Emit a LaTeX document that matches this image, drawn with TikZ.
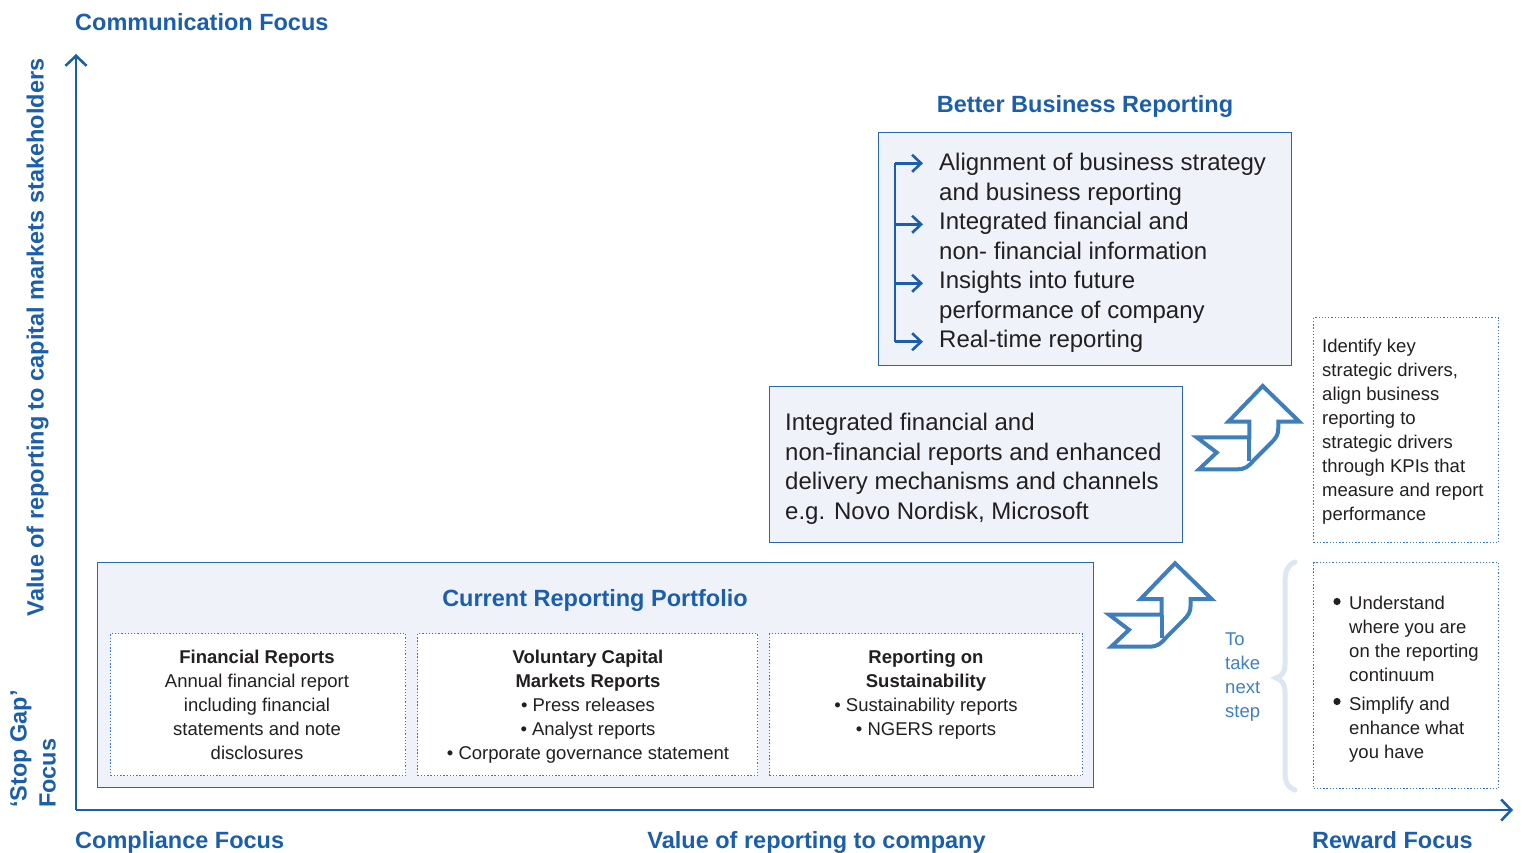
\documentclass[tikz,border=0pt]{standalone}
\usepackage{fontspec}
\setmainfont{Liberation Sans}
\usetikzlibrary{arrows.meta}
\definecolor{kblue}{HTML}{1B5EAB}
\definecolor{kline}{HTML}{2A66AE}
\definecolor{kfill}{HTML}{EFF3F9}
\definecolor{karrow}{HTML}{3F7EBD}
\definecolor{kdot}{HTML}{3A78BD}
\definecolor{kbrace}{HTML}{DDE7F2}
\definecolor{kstep}{HTML}{3E80C4}
\definecolor{ktext}{HTML}{231F20}
\tikzset{
  axisline/.style={draw=kblue, line width=2.6pt, -{Straight Barb[length=10pt,width=21pt]}},
  title/.style={font=\fontsize{23.5}{28}\selectfont\bfseries, text=kblue, inner sep=0pt},
  bigbox/.style={draw=kline, line width=1.4pt, fill=kfill, anchor=north west, inner sep=0pt},
  dotbox/.style={draw=kdot, line width=1.3pt, dash pattern=on 1.3pt off 1.9pt, fill=white, anchor=north west, inner sep=0pt},
  bodytext/.style={font=\fontsize{24}{29.5}\selectfont, text=ktext, align=left, anchor=north west, inner sep=0pt},
  smalltext/.style={font=\fontsize{18.5}{24}\selectfont, text=ktext, inner sep=0pt},
  bbarrow/.style={draw=kblue, line width=2.6pt, -{Straight Barb[length=9pt,width=17pt]}},
  fatarrow/.pic={
    \draw[karrow, line width=4pt, line join=miter, fill=white]
      (72.7,6) -- (109.3,41.7) -- (88.3,41.7) -- (88.3,48)
      .. controls (88.3,55) and (86,58) .. (81,63) -- (64,80)
      .. controls (58,87) and (55,89.3) .. (47,89.3) -- (9,89.3) -- (26.7,72.5)
      -- (6.7,57.3) -- (59.3,57.3) -- (59.3,41.7) -- (38.3,41.7) -- cycle;
    \draw[karrow, line width=4pt] (59.3,57.3) -- (59.3,81);
  }
}
\begin{document}
\begin{tikzpicture}[x=1pt,y=-1pt]
\useasboundingbox (0,0) rectangle (1523,852);
% axes
\coordinate (O) at (76,810);
\coordinate (ytop) at (76,54);
\coordinate (xend) at (1513,810);
\draw[axisline] (O) -- (ytop);
\draw[axisline] (O) -- (xend);
% axis labels
\node[title, anchor=base west] (comm) at (75,30.5) {Communication Focus};
\node[title, anchor=base west] (compl) at (75,848.5) {Compliance Focus};
\node[title, anchor=base] (valco) at (816.5,848.5) {Value of reporting to company};
\node[title, anchor=base west] (reward) at (1312,848.5) {Reward Focus};
\node[title, anchor=base, rotate=90] (valcap) at (43.5,337.5) {Value of reporting to capital markets stakeholders};
\node[title, anchor=base west, rotate=90] (stopgap) at (26.5,808) {‘Stop Gap’};
\node[title, anchor=base west, rotate=90] (focus) at (55.5,808) {Focus};
% Better business reporting
\node[title, anchor=base] (bbrtitle) at (1085,112.5) {Better Business Reporting};
\node[bigbox, minimum width=413pt, minimum height=233pt] (bbr) at (878,132) {};
\coordinate (bt) at (895,163.3);
\coordinate (bb) at (895,341.7);
\coordinate (a1) at (923,163.3);
\coordinate (a2) at (923,224.3);
\coordinate (a3) at (923,283.3);
\coordinate (a4) at (923,341.7);
\draw[draw=kblue, line width=2.6pt] (bt) -- (bb);
\draw[bbarrow] (bt) -- (a1);
\draw[bbarrow] (bt |- a2) -- (a2);
\draw[bbarrow] (bt |- a3) -- (a3);
\draw[bbarrow] (bb) -- (a4);
\node[bodytext] (bbrtext) at (939,153) {Alignment of business strategy\\and business reporting\\Integrated financial and\\non- financial information\\Insights into future\\performance of company\\Real-time reporting};
% middle box
\node[bigbox, minimum width=413pt, minimum height=156pt] (mid) at (769,386) {};
\node[bodytext] (midtext) at (785,413) {Integrated financial and\\non-financial reports and enhanced\\delivery mechanisms and channels\\e.g. Novo Nordisk, Microsoft};
% current reporting portfolio
\node[bigbox, minimum width=996pt, minimum height=225pt] (crp) at (97,562) {};
\node[title, anchor=base] (crptitle) at (595,606.5) {Current Reporting Portfolio};
\node[dotbox, minimum width=295pt, minimum height=142pt] (d1) at (110,633) {};
\node[dotbox, minimum width=340pt, minimum height=142pt] (d2) at (417,633) {};
\node[dotbox, minimum width=313pt, minimum height=142pt] (d3) at (769,633) {};
\node[smalltext, align=center, anchor=north] (t1) at (257,650) {\textbf{Financial Reports}\\Annual financial report\\including financial\\statements and note\\disclosures};
\node[smalltext, align=center, anchor=north] (t2) at (588,650) {\textbf{Voluntary Capital}\\\textbf{Markets Reports}\\• Press releases\\• Analyst reports\\• Corporate governance statement};
\node[smalltext, align=center, anchor=north] (t3) at (926,650) {\textbf{Reporting on}\\\textbf{Sustainability}\\• Sustainability reports\\• NGERS reports};
% fat arrows
\pic at (1190,380) {fatarrow};
\pic at (1102.3,557.3) {fatarrow};
% right boxes
\node[dotbox, minimum width=185pt, minimum height=225pt] (rt) at (1313,317) {};
\node[smalltext, align=left, anchor=north west] (rttext) at (1322,339) {Identify key\\strategic drivers,\\align business\\reporting to\\strategic drivers\\through KPIs that\\measure and report\\performance};
\node[dotbox, minimum width=185pt, minimum height=226pt] (rb) at (1313,562) {};
\node[smalltext, align=left, anchor=north west] (rb1) at (1349,596) {Understand\\where you are\\on the reporting\\continuum};
\node[smalltext, align=left, anchor=north west] (rb2) at (1349,697) {Simplify and\\enhance what\\you have};
\fill[ktext] (1337,601.5) circle (3.6pt);
\fill[ktext] (1337,701.5) circle (3.6pt);
% brace and step text
\draw[kbrace, line width=5pt, line cap=round]
  (1295,562) .. controls (1287,565) and (1285,572) .. (1285,582) -- (1285,664)
  .. controls (1285,672) and (1282,676) .. (1276,678)
  .. controls (1282,680) and (1285,684) .. (1285,692) -- (1285,772)
  .. controls (1285,782) and (1287,787) .. (1295,790);
\node[smalltext, text=kstep, align=left, anchor=north west] (step) at (1225,633) {To\\take\\next\\step};
\end{tikzpicture}
\end{document}
